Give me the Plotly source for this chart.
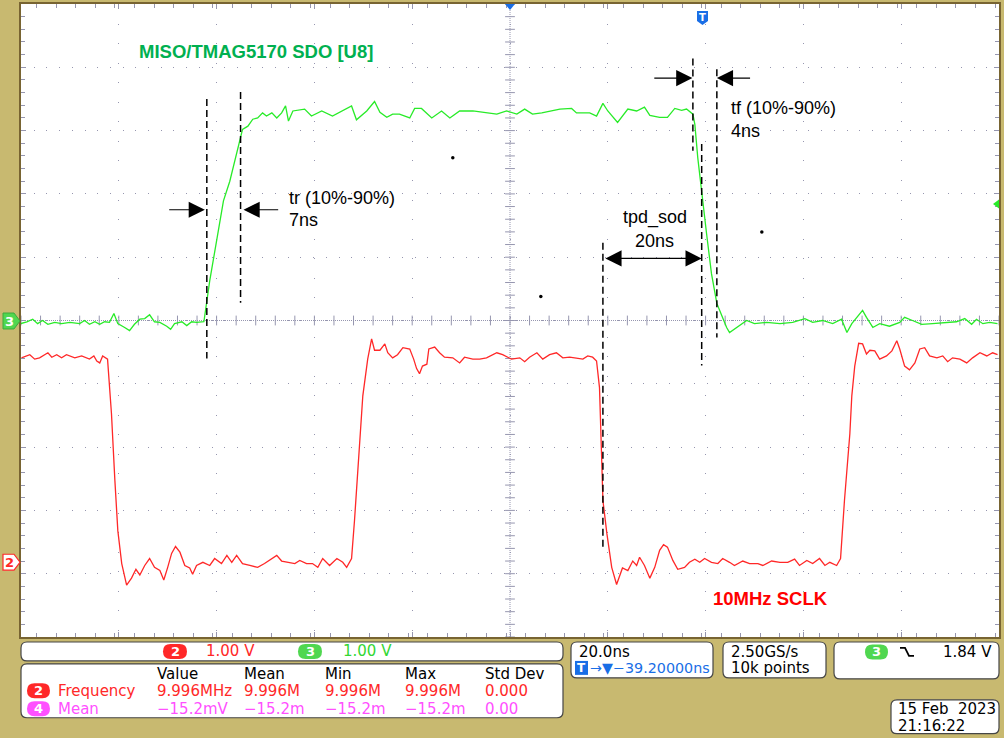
import plotly.graph_objects as go
import numpy as np

# ---------------- data (time in ns relative to trigger, volts) ----------------
ch3_t = [-139.3, -138.0, -136.8, -135.8, -134.8, -133.7, -132.3, -130.9, -129.2, -127.2,
         -126.2, -125.2, -124.1, -123.1, -122.1, -121.1, -120.2, -119.4, -118.0, -117.0,
         -116.0, -114.9, -113.9, -112.9, -111.9, -110.8, -109.4, -108.6, -107.8, -106.3,
         -105.3, -104.3, -103.3, -101.8, -100.6, -99.2, -97.8, -96.5, -95.5, -94.5,
         -93.9, -92.8, -91.8, -90.8, -89.8, -89.0, -87.9, -86.9, -85.9, -85.1,
         -84.5, -83.6, -81.2, -79.8, -77.7, -75.5, -73.4, -71.6, -70.6, -68.5,
         -66.9, -65.8, -64.4, -63.2, -61.8, -59.7, -58.7, -57.3, -55.2, -53.2,
         -51.5, -49.5, -46.8, -44.0, -41.9, -39.9, -37.8, -36.2, -34.6, -32.7,
         -31.1, -29.0, -26.6, -25.6, -22.9, -21.5, -20.2, -19.2, -17.2, -16.2,
         -15.1, -13.3, -11.7, -10.6, -8.6, -7.0, -5.5, -4.1, -3.1, -1.8,
         -1.4, -0.8, 0.0, 1.0, 2.0, 3.1, 4.1, 5.1, 5.7, 7.2,
         8.2, 9.2, 10.8, 13.3, 16.0, 18.6, 21.1, 22.7, 24.7, 26.8,
         28.6, 29.7, 30.7, 31.7, 32.9, 33.7, 35.0, 36.4, 38.4, 40.5,
         41.5, 43.1, 45.0, 47.2, 50.1, 52.1, 53.8, 55.2, 56.2, 57.5,
         58.9, 60.5]
ch3_v = [-0.05, -0.02, 0.02, -0.05, 0.00, -0.06, -0.03, -0.05, -0.03, -0.05,
         0.00, -0.06, -0.02, -0.06, -0.02, -0.03, 0.11, -0.05, -0.11, -0.16,
         -0.06, 0.02, 0.03, 0.09, -0.02, -0.03, -0.09, -0.14, -0.05, -0.02,
         -0.08, -0.02, -0.03, -0.02, 0.63, 1.26, 1.89, 2.20, 2.52, 2.83,
         3.02, 3.07, 3.18, 3.20, 3.28, 3.23, 3.28, 3.20, 3.28, 3.39,
         3.15, 3.31, 3.34, 3.23, 3.31, 3.23, 3.31, 3.39, 3.17, 3.31,
         3.46, 3.29, 3.21, 3.26, 3.26, 3.20, 3.35, 3.35, 3.20, 3.31,
         3.20, 3.31, 3.31, 3.28, 3.26, 3.31, 3.26, 3.34, 3.26, 3.28,
         3.31, 3.34, 3.35, 3.28, 3.28, 3.23, 3.43, 3.31, 3.13, 3.23,
         3.34, 3.31, 3.37, 3.24, 3.21, 3.21, 3.35, 3.32, 3.34, 3.26,
         3.10, 2.57, 2.00, 1.37, 0.74, 0.27, 0.08, -0.11, -0.19, -0.11,
         -0.05, 0.00, -0.05, -0.03, -0.05, -0.03, 0.03, -0.03, 0.00, -0.05,
         0.02, -0.19, -0.05, 0.05, 0.16, 0.05, -0.11, -0.05, -0.09, -0.03,
         0.05, 0.00, -0.06, -0.05, -0.03, -0.02, 0.03, -0.06, 0.02, -0.05,
         -0.03, -0.05]

ch2_t = [-139.1, -137.4, -136.4, -135.4, -133.7, -132.9, -131.9, -130.9, -129.9, -128.8,
         -128.2, -126.8, -125.2, -124.3, -123.7, -123.1, -122.5, -121.5, -120.7, -120.0,
         -119.4, -118.6, -117.6, -116.6, -115.7, -114.9, -113.9, -112.9, -111.9, -110.8,
         -110.0, -109.2, -108.4, -107.6, -106.7, -105.7, -104.7, -104.1, -103.3, -102.0,
         -100.6, -99.6, -98.2, -97.1, -96.1, -95.1, -93.9, -92.4, -90.8, -89.4,
         -87.9, -86.9, -85.9, -84.7, -83.2, -82.2, -80.8, -79.6, -78.5, -77.5,
         -76.1, -74.6, -73.4, -72.6, -71.6, -71.0, -70.1, -69.3, -68.3, -67.5,
         -66.9, -65.8, -64.8, -64.2, -63.2, -62.2, -61.1, -59.7, -58.9, -58.3,
         -57.7, -57.1, -56.2, -55.8, -54.6, -53.6, -52.6, -50.9, -49.5, -48.5,
         -46.8, -45.4, -44.0, -41.9, -40.7, -38.9, -37.2, -36.2, -35.2, -33.7,
         -32.5, -31.1, -29.7, -28.4, -27.0, -25.6, -24.3, -23.3, -22.3, -21.5,
         -20.9, -20.5, -20.2, -19.4, -18.4, -17.4, -16.2, -15.1, -14.1, -13.3,
         -12.7, -11.7, -10.6, -9.6, -8.6, -7.8, -7.0, -5.9, -4.9, -3.5,
         -2.5, -1.4, -0.4, 0.6, 2.0, 3.3, 4.3, 5.7, 6.7, 8.4,
         9.8, 11.5, 12.5, 14.3, 16.0, 17.6, 19.0, 20.0, 21.5, 22.7,
         24.1, 25.2, 26.2, 27.6, 28.4, 29.2, 30.3, 30.7, 31.3, 32.1,
         32.9, 33.7, 34.4, 35.4, 36.4, 37.8, 38.9, 39.9, 40.5, 41.5,
         42.5, 43.6, 44.6, 45.6, 46.6, 48.1, 49.3, 50.3, 51.3, 52.8,
         54.2, 55.4, 56.9, 58.3, 59.5, 60.5]
ch2_v = [3.23, 3.28, 3.21, 3.23, 3.31, 3.24, 3.28, 3.23, 3.28, 3.24,
         3.23, 3.26, 3.21, 3.26, 3.18, 3.15, 3.26, 3.21, 2.35, 1.29,
         0.50, -0.02, -0.36, -0.25, -0.11, -0.20, -0.05, 0.06, -0.08, -0.13,
         -0.28, -0.08, 0.14, 0.25, 0.16, -0.05, -0.09, -0.19, -0.05, 0.00,
         -0.05, 0.06, -0.02, 0.11, 0.00, 0.11, -0.02, -0.05, -0.08, -0.02,
         0.06, 0.11, 0.02, 0.00, -0.02, 0.03, -0.02, -0.02, -0.08, 0.06,
         -0.05, 0.06, 0.00, -0.08, 0.06, 0.66, 1.69, 2.63, 3.21, 3.53,
         3.35, 3.35, 3.45, 3.31, 3.23, 3.28, 3.39, 3.37, 3.21, 3.06,
         2.98, 3.10, 3.13, 3.37, 3.40, 3.31, 3.24, 3.23, 3.15, 3.24,
         3.21, 3.21, 3.23, 3.31, 3.28, 3.21, 3.23, 3.17, 3.24, 3.31,
         3.21, 3.28, 3.31, 3.23, 3.24, 3.23, 3.21, 3.26, 3.24, 3.18,
         2.76, 1.76, 0.98, 0.46, -0.08, -0.35, -0.09, -0.13, 0.02, -0.05,
         0.08, -0.05, -0.25, -0.08, 0.19, 0.28, 0.24, 0.03, -0.11, -0.08,
         0.00, 0.05, 0.00, 0.06, 0.00, -0.02, 0.06, 0.00, -0.05, 0.02,
         -0.02, -0.02, -0.05, 0.02, 0.00, 0.00, 0.05, -0.05, 0.03, -0.02,
         0.06, -0.05, 0.00, -0.05, 0.06, 0.98, 2.03, 2.63, 3.10, 3.46,
         3.45, 3.29, 3.35, 3.34, 3.21, 3.26, 3.34, 3.50, 3.37, 3.10,
         3.04, 3.15, 3.37, 3.39, 3.26, 3.23, 3.26, 3.17, 3.23, 3.21,
         3.15, 3.23, 3.31, 3.26, 3.31, 3.28]

# stray display dots (ns, V on ch3 scale)
dots_t = [-50.9, 12.3, -32.9]
dots_v = [2.57, 1.40, 0.38]

# scope settings
time_per_div = 20.0      # ns/div
h_position = -39.2       # ns (screen centre relative to trigger)
volts_per_div = 1.0
ch2_offset_div = 3.82
trigger_level = 1.84

# ---------------- styling helpers ----------------
W, H = 1004, 738
L, R, T, B = 21, 999, 2, 637
KHAKI = "rgb(200,185,112)"
FRAME = "rgb(120,100,50)"
GRID = "rgb(150,150,175)"
GREEN = "rgb(40,235,40)"
RED = "rgb(255,40,40)"
BADGE_GREEN = "rgb(80,215,80)"
MAGENTA = "rgb(255,80,255)"
BLUE = "rgb(25,110,230)"
UI_FONT = "DejaVu Sans"
ANN_FONT = "Liberation Sans"


def px(x):
    return (x - L) / (R - L)


def py(y):
    return (B - y) / (B - T)


def P(x, y):
    return f"{px(x):.5f},{py(y):.5f}"


def rrect_path(x0, y0, x1, y1, r):
    return (f"M{P(x0 + r, y0)} L{P(x1 - r, y0)} Q{P(x1, y0)} {P(x1, y0 + r)} "
            f"L{P(x1, y1 - r)} Q{P(x1, y1)} {P(x1 - r, y1)} L{P(x0 + r, y1)} "
            f"Q{P(x0, y1)} {P(x0, y1 - r)} L{P(x0, y0 + r)} Q{P(x0, y0)} {P(x0 + r, y0)} Z")


shapes = []
annotations = []


def box(x0, y0, x1, y1, r=6):
    shapes.append(dict(type="path", xref="paper", yref="paper", path=rrect_path(x0, y0, x1, y1, r),
                       fillcolor="white", line=dict(color="rgb(70,70,70)", width=1.2), layer="above"))


def badge(x0, x1, yc, color, label, h=15):
    y0, y1 = yc - h / 2, yc + h / 2
    shapes.append(dict(type="path", xref="paper", yref="paper", path=rrect_path(x0, y0, x1, y1, h / 2),
                       fillcolor=color, line=dict(width=0), layer="above"))
    annotations.append(dict(xref="paper", yref="paper", x=px((x0 + x1) / 2), y=py(yc), text=f"<b>{label}</b>",
                            showarrow=False, xanchor="center", yanchor="middle",
                            font=dict(family=UI_FONT, size=13, color="white")))


def ptext(x, y, text, color="black", size=15, anchor="left", family=UI_FONT):
    annotations.append(dict(xref="paper", yref="paper", x=px(x), y=py(y), text=text, showarrow=False,
                            xanchor=anchor, yanchor="middle", font=dict(family=family, size=size, color=color)))


# ---------------- figure ----------------
xr = [h_position - 5 * time_per_div, h_position + 5 * time_per_div]
yr = [-5 * volts_per_div, 5 * volts_per_div]
y2r = [(-5 + ch2_offset_div) * volts_per_div, (5 + ch2_offset_div) * volts_per_div]

fig = go.Figure()

# centre crosshair ticks (graticule)
cx = np.arange(xr[0], xr[1] + 0.01, time_per_div / 5)
cy = np.arange(yr[0], yr[1] + 0.001, volts_per_div / 5)
fig.add_trace(go.Scatter(x=cx, y=[0] * len(cx), mode="markers", hoverinfo="skip",
                         marker=dict(symbol="line-ns", size=7, line=dict(color=GRID, width=1))))
fig.add_trace(go.Scatter(x=[h_position] * len(cy), y=cy, mode="markers", hoverinfo="skip",
                         marker=dict(symbol="line-ew", size=7, line=dict(color=GRID, width=1))))

fig.add_trace(go.Scatter(x=ch2_t, y=ch2_v, yaxis="y2", mode="lines", line=dict(color=RED, width=1.3),
                         name="CH2 SCLK"))
fig.add_trace(go.Scatter(x=ch3_t, y=ch3_v, mode="lines", line=dict(color=GREEN, width=1.3),
                         name="CH3 SDO"))
fig.add_trace(go.Scatter(x=dots_t, y=dots_v, mode="markers", marker=dict(color="black", size=3.5),
                         hoverinfo="skip"))

# centre crosshair lines
shapes.append(dict(type="line", xref="x", yref="paper", x0=h_position, x1=h_position, y0=0, y1=1,
                   line=dict(color=GRID, width=1, dash="1px,1px"), layer="below"))
shapes.append(dict(type="line", xref="paper", yref="y", x0=0, x1=1, y0=0, y1=0,
                   line=dict(color=GRID, width=1, dash="1px,1px"), layer="below"))

# dashed measurement cursors (ns, V on ch3 scale)
cursors = [(-101.2, 3.50, -0.60), (-94.3, 3.61, 0.28), (-1.8, 4.14, 2.68),
           (0.0, 2.79, -0.71), (3.1, 3.97, -0.27), (-20.2, 1.23, -3.62)]
for t, v0, v1 in cursors:
    shapes.append(dict(type="line", xref="x", yref="y", x0=t, x1=t, y0=v0, y1=v1,
                       line=dict(color="black", width=1.5, dash="7px,4px")))

# arrows
def arrow(tip, tail, v, both=False):
    a = dict(xref="x", yref="y", axref="x", ayref="y", x=tip, y=v, ax=tail, ay=v, text="",
             showarrow=True, arrowhead=2, arrowsize=2.7, arrowwidth=1.2, arrowcolor="black",
             standoff=0, startstandoff=0)
    if both:
        a.update(arrowside="end+start", startarrowhead=2, startarrowsize=2.7)
    annotations.append(a)


arrow(-101.6, -109.2, 1.75)
arrow(-93.7, -86.3, 1.75)
arrow(-1.9, -10.0, 3.83)
arrow(3.1, 10.2, 3.83)
arrow(0.0, -20.0, 0.98, both=True)


def dtext(t, v, text, color="black", size=18, anchor="left", bold=False):
    if bold:
        text = f"<b>{text}</b>"
    annotations.append(dict(xref="x", yref="y", x=t, y=v, text=text, showarrow=False, xanchor=anchor,
                            yanchor="middle", font=dict(family=ANN_FONT, size=size, color=color)))


dtext(-84.9, 1.94, "tr (10%-90%)")
dtext(-84.9, 1.59, "7ns")
dtext(5.5, 3.35, "tf (10%-90%)")
dtext(5.5, 2.99, "4ns")
dtext(-9.6, 1.62, "tpd_sod", anchor="center")
dtext(-9.6, 1.26, "20ns", anchor="center")
dtext(-115.5, 4.25, "MISO/TMAG5170 SDO [U8]", color="rgb(0,176,80)", size=18.5, bold=True)
dtext(2.0, -4.39, "10MHz SCLK", color="rgb(255,0,0)", size=18.5, bold=True)

# screen markers
shapes.append(dict(type="path", xref="paper", yref="paper",
                   path=f"M{P(3,312)} L{P(14,312)} L{P(20,320)} L{P(14,328)} L{P(3,328)} Z",
                   fillcolor=BADGE_GREEN, line=dict(color="rgb(60,170,60)", width=1)))
ptext(9, 320.5, "<b>3</b>", color="white", size=13, anchor="center")
shapes.append(dict(type="path", xref="paper", yref="paper",
                   path=f"M{P(3,554)} L{P(14,554)} L{P(20,562)} L{P(14,570)} L{P(3,570)} Z",
                   fillcolor="white", line=dict(color=RED, width=1.2)))
ptext(9, 562.5, "<b>2</b>", color=RED, size=13, anchor="center")
shapes.append(dict(type="path", xref="paper", yref="paper",
                   path=f"M{P(505,2)} L{P(515,2)} L{P(510,8)} Z", fillcolor=BLUE, line=dict(width=0)))
shapes.append(dict(type="path", xref="paper", yref="paper",
                   path=f"M{P(697,9)} L{P(708,9)} L{P(708,19)} L{P(702.5,23)} L{P(697,19)} Z",
                   fillcolor=BLUE, line=dict(width=0)))
ptext(702.5, 15.5, "<b>T</b>", color="white", size=10, anchor="center")
shapes.append(dict(type="path", xref="paper", yref="y",
                   path=f"M{px(999):.5f},{trigger_level + 0.07} L{px(999):.5f},{trigger_level - 0.07} L{px(993):.5f},{trigger_level} Z",
                   fillcolor=GREEN, line=dict(width=0)))

# ---------------- bottom readout panels ----------------
box(21, 642, 563, 661)
badge(163, 187, 651.5, RED, "2")
ptext(204, 651.5, "1.00 V", color=RED)
badge(298, 322, 651.5, BADGE_GREEN, "3")
ptext(341, 651.5, "1.00 V", color="rgb(50,215,50)")

box(21, 664, 563, 718)
cols = [155, 242, 323, 403, 483]
for c, h in zip(cols, ["Value", "Mean", "Min", "Max", "Std Dev"]):
    ptext(c, 674, h)
badge(27, 50, 691, RED, "2")
ptext(56, 691, "Frequency", color=RED)
for c, s in zip(cols, ["9.996MHz", "9.996M", "9.996M", "9.996M", "0.000"]):
    ptext(c, 691, s, color=RED)
badge(27, 50, 709, MAGENTA, "4")
ptext(56, 709, "Mean", color=MAGENTA)
for c, s in zip(cols, ["\u221215.2mV", "\u221215.2m", "\u221215.2m", "\u221215.2m", "0.00"]):
    ptext(c, 709, s, color=MAGENTA)

box(571, 642, 713, 678)
ptext(577, 652, "20.0ns")
shapes.append(dict(type="rect", xref="paper", yref="paper", x0=px(575), x1=px(588), y0=py(675), y1=py(661),
                   fillcolor=BLUE, line=dict(width=0), layer="above"))
ptext(581.5, 668, "<b>T</b>", color="white", size=12, anchor="center")
ptext(588, 668, "\u2192\u25bc\u221239.20000ns", color=BLUE, size=14.3)

box(723, 642, 826, 678)
ptext(729, 652, "2.50GS/s")
ptext(729, 668, "10k points")

box(834, 642, 999, 679)
badge(865, 888, 652, BADGE_GREEN, "3")
shapes.append(dict(type="path", xref="paper", yref="paper",
                   path=f"M{P(900,648)} L{P(905,648)} L{P(909,656)} L{P(914,656)}",
                   line=dict(color="black", width=1.8), layer="above"))
ptext(994, 652, "1.84 V", anchor="right")

box(891, 700, 999, 734)
ptext(896, 709, "15 Feb\u00a0\u00a02023")
ptext(896, 726, "21:16:22")

fig.update_layout(
    width=W, height=H,
    margin=dict(l=L, r=W - R, t=T, b=H - B),
    paper_bgcolor=KHAKI, plot_bgcolor="white",
    showlegend=False,
    shapes=shapes, annotations=annotations,
    xaxis=dict(range=xr, dtick=time_per_div, tick0=xr[0], showticklabels=False, zeroline=False,
               showgrid=True, gridcolor=GRID, gridwidth=1, griddash="1px,18.56px",
               showline=True, linecolor=FRAME, linewidth=2, mirror="ticks",
               ticks="inside", ticklen=5, tickcolor=GRID,
               minor=dict(dtick=time_per_div / 5, ticks="inside", ticklen=4, tickcolor=GRID, showgrid=False)),
    yaxis=dict(range=yr, dtick=volts_per_div, tick0=yr[0], showticklabels=False, zeroline=False,
               showgrid=True, gridcolor=GRID, gridwidth=1, griddash="1px,11.7px",
               showline=True, linecolor=FRAME, linewidth=2, mirror="ticks",
               ticks="inside", ticklen=5, tickcolor=GRID,
               minor=dict(dtick=volts_per_div / 5, ticks="inside", ticklen=4, tickcolor=GRID, showgrid=False)),
    yaxis2=dict(range=y2r, overlaying="y", visible=False),
)

fig.write_html("out.html", config={"displayModeBar": False},
               post_script="document.body.style.margin='0px';document.body.style.overflow='hidden';")
